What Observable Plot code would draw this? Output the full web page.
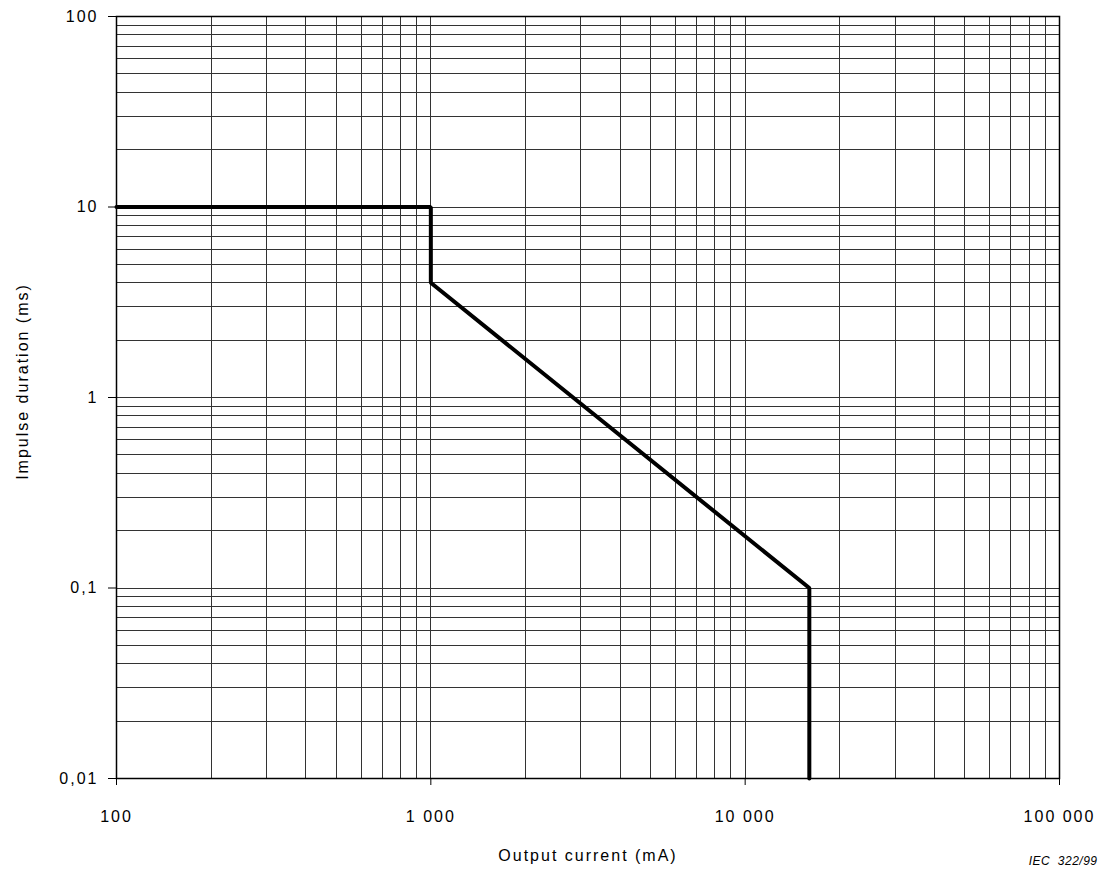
<!DOCTYPE html>
<html>
<head>
<meta charset="utf-8">
<script src="https://cdn.jsdelivr.net/npm/d3@7"></script>
<script src="https://cdn.jsdelivr.net/npm/@observablehq/plot@0.6"></script>
<style>
  html, body { margin: 0; padding: 0; background: #fff; }
  #chart svg { display: block; font-family: "Liberation Sans", Arial, sans-serif; }
  #chart svg text { letter-spacing: 2px; }
  #chart svg text.iec { letter-spacing: 0.5px; }
</style>
</head>
<body>
<div id="chart"></div>
<script>
// Curve: impulse duration (ms) vs output current (mA)
const currentMA = [100, 1000, 1000, 16000, 16000];
const durationMs = [10, 10, 4, 0.1, 0.01];

// Axis ticks and labels
const xTicks = [100, 1000, 10000, 100000];
const xTickLabels = ["100", "1 000", "10 000", "100 000"];
const yTicks = [0.01, 0.1, 1, 10, 100];
const yTickLabels = ["0,01", "0,1", "1", "10", "100"];

// Log-grid scaffolding: decade starts and 1..9 multipliers
const xDecades = [100, 1000, 10000];
const yDecades = [0.01, 0.1, 1, 10];
const multipliers = [1, 2, 3, 4, 5, 6, 7, 8, 9];

const xGrid = xDecades.flatMap(d => multipliers.map(m => d * m)).concat([100000]);
const yGrid = yDecades.flatMap(d => multipliers.map(m => +(d * m).toPrecision(6))).concat([100]);

const xLab = new Map(xTicks.map((v, i) => [v, xTickLabels[i]]));
const yLab = new Map(yTicks.map((v, i) => [v, yTickLabels[i]]));

const data = currentMA.map((x, i) => ({x, y: durationMs[i]}));

const chart = Plot.plot({
  width: 1113,
  height: 877,
  marginLeft: 116,
  marginRight: 54,
  marginTop: 16,
  marginBottom: 99,
  style: {fontFamily: '"Liberation Sans", Arial, sans-serif', color: "#000", background: "#fff"},
  x: {type: "log", domain: [100, 100000], axis: null},
  y: {type: "log", domain: [0.01, 100], axis: null},
  marks: [
    Plot.ruleX(xGrid, {stroke: "#333", strokeWidth: 1, shapeRendering: "crispEdges"}),
    Plot.ruleY(yGrid, {stroke: "#333", strokeWidth: 1, shapeRendering: "crispEdges"}),
    Plot.frame({stroke: "#000", strokeWidth: 1.5}),
    Plot.axisX(xTicks, {
      anchor: "bottom", tickSize: 7, tickPadding: 25, fontSize: 16,
      tickFormat: d => xLab.get(d), label: null, stroke: "#000"
    }),
    Plot.axisY(yTicks, {
      anchor: "left", tickSize: 8, tickPadding: 10, fontSize: 16,
      tickFormat: d => yLab.get(d), label: null, stroke: "#000"
    }),
    Plot.line(data, {x: "x", y: "y", stroke: "#000", strokeWidth: 4, strokeLinejoin: "miter", curve: "linear"}),
    Plot.text(["Output current (mA)"], {
      frameAnchor: "bottom", dy: 77, fontSize: 16, textAnchor: "middle", lineAnchor: "middle", fill: "#000"
    }),
    Plot.text(["Impulse duration (ms)"], {
      frameAnchor: "left", dx: -94, dy: -16, rotate: -90, fontSize: 16, textAnchor: "middle", lineAnchor: "middle", fill: "#000"
    }),
    Plot.text(["IEC  322/99"], {
      frameAnchor: "bottom-right", dx: 38, dy: 83, fontSize: 12, fontStyle: "italic",
      textAnchor: "end", lineAnchor: "middle", fill: "#000"
    })
  ]
});
chart.querySelectorAll("text").forEach(t => {
  if (t.textContent.startsWith("IEC")) t.setAttribute("class", "iec");
});
document.getElementById("chart").appendChild(chart);
</script>
</body>
</html>
